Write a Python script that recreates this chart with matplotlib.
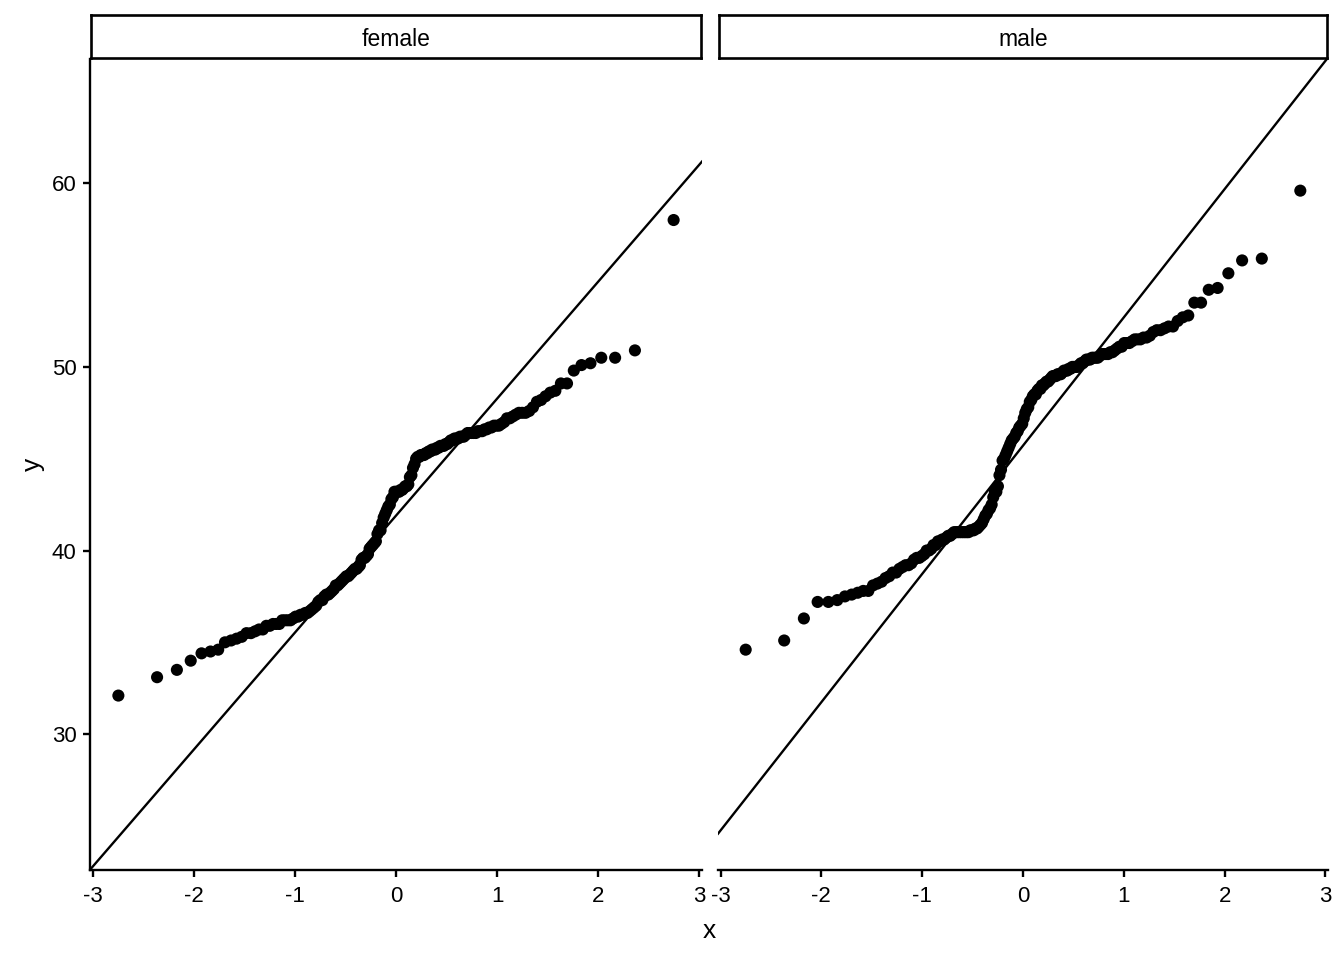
import numpy as np
import matplotlib
matplotlib.use('Agg')
import matplotlib.pyplot as plt
from statistics import NormalDist

plt.rcParams['font.family'] = ['Liberation Sans', 'DejaVu Sans']
plt.rcParams['axes.unicode_minus'] = False

# Data: sorted sample values, one list per facet
panels = ['female', 'male']

female = [
    32.1, 33.1, 33.5, 34.0, 34.4, 34.5, 34.6, 35.0, 35.1,
    35.2, 35.3, 35.5, 35.5, 35.6, 35.7, 35.7, 35.9, 35.9, 36.0,
    36.0, 36.0, 36.2, 36.2, 36.2, 36.2, 36.3, 36.4, 36.4, 36.5,
    36.5, 36.6, 36.6, 36.7, 36.8, 36.9, 37.0, 37.2, 37.3, 37.3,
    37.5, 37.6, 37.6, 37.7, 37.8, 37.9, 38.1, 38.1, 38.2, 38.3,
    38.4, 38.5, 38.6, 38.6, 38.7, 38.8, 38.9, 39.0, 39.0, 39.1,
    39.2, 39.5, 39.6, 39.6, 39.7, 39.8, 40.1, 40.2, 40.3, 40.4,
    40.5, 40.9, 41.1, 41.1, 41.5, 41.8, 42.0, 42.2, 42.4, 42.5,
    42.8, 42.9, 43.2, 43.2, 43.2, 43.2, 43.3, 43.3, 43.4, 43.5,
    43.5, 43.6, 44.0, 44.1, 44.5, 44.7, 45.0, 45.1, 45.1, 45.2,
    45.2, 45.2, 45.3, 45.3, 45.4, 45.4, 45.5, 45.5, 45.5, 45.6,
    45.6, 45.7, 45.7, 45.7, 45.8, 45.8, 45.9, 46.0, 46.0, 46.1,
    46.1, 46.1, 46.2, 46.2, 46.2, 46.3, 46.4, 46.4, 46.4, 46.4,
    46.4, 46.5, 46.5, 46.5, 46.6, 46.6, 46.7, 46.7, 46.8, 46.8,
    46.8, 46.9, 47.0, 47.2, 47.2, 47.3, 47.4, 47.5, 47.5, 47.5,
    47.6, 47.8, 48.1, 48.2, 48.4, 48.6, 48.7, 49.1, 49.1, 49.8,
    50.1, 50.2, 50.5, 50.5, 50.9, 58.0,
]

male = [
    34.6, 35.1, 36.3, 37.2, 37.2, 37.3, 37.5, 37.6, 37.7, 37.8,
    37.8, 38.1, 38.2, 38.3, 38.5, 38.6, 38.8, 38.8, 39.0, 39.1,
    39.2, 39.2, 39.3, 39.5, 39.6, 39.6, 39.7, 39.8, 40.0, 40.0,
    40.1, 40.3, 40.3, 40.5, 40.5, 40.6, 40.6, 40.7, 40.8, 40.8,
    40.9, 41.0, 41.0, 41.0, 41.0, 41.0, 41.0, 41.0, 41.0, 41.0,
    41.1, 41.1, 41.1, 41.2, 41.2, 41.3, 41.4, 41.5, 41.7, 41.9,
    42.0, 42.2, 42.3, 42.5, 42.9, 43.2, 43.2, 43.5, 44.1, 44.4,
    44.9, 45.0, 45.2, 45.4, 45.6, 45.8, 46.0, 46.1, 46.2, 46.4,
    46.5, 46.7, 46.8, 46.9, 47.2, 47.5, 47.7, 47.8, 48.1, 48.2,
    48.4, 48.5, 48.5, 48.7, 48.8, 48.8, 49.0, 49.0, 49.1, 49.2,
    49.2, 49.3, 49.4, 49.5, 49.5, 49.5, 49.6, 49.6, 49.6, 49.7,
    49.8, 49.8, 49.8, 49.9, 49.9, 50.0, 50.0, 50.0, 50.0, 50.1,
    50.2, 50.2, 50.3, 50.4, 50.4, 50.4, 50.5, 50.5, 50.5, 50.5,
    50.6, 50.7, 50.7, 50.7, 50.7, 50.8, 50.8, 50.9, 51.0, 51.1,
    51.1, 51.3, 51.3, 51.3, 51.4, 51.5, 51.5, 51.5, 51.6, 51.6,
    51.7, 51.9, 52.0, 52.0, 52.1, 52.2, 52.2, 52.5, 52.7, 52.8,
    53.5, 53.5, 54.2, 54.3, 55.1, 55.8, 55.9, 59.6,
]

x_ticks = [-3, -2, -1, 0, 1, 2, 3]
y_ticks = [30, 40, 50, 60]


def qq(values):
    # theoretical normal quantiles, ppoints style (n > 10 -> a = 0.5)
    y = np.sort(np.asarray(values, dtype=float))
    n = len(y)
    nd = NormalDist()
    x = np.array([nd.inv_cdf((i - 0.5) / n) for i in range(1, n + 1)])
    return x, y


def qq_line(values):
    # line through the 1st and 3rd quartiles
    y = np.asarray(values, dtype=float)
    q1, q3 = np.percentile(y, [25, 75])
    nd = NormalDist()
    z1, z3 = nd.inv_cdf(0.25), nd.inv_cdf(0.75)
    slope = (q3 - q1) / (z3 - z1)
    return q1 - slope * z1, slope


fig = plt.figure(figsize=(13.44, 9.6), dpi=100)
fig.patch.set_facecolor('white')

W, H = 1344, 960
panel_px = [(90, 702), (718, 1328)]
top_px, bottom_px = 59, 870
strip_top, strip_bottom = 15, 58

for k, (name, vals) in enumerate(zip(panels, [female, male])):
    x0, x1 = panel_px[k]
    ax = fig.add_axes([x0 / W, 1 - bottom_px / H, (x1 - x0) / W, (bottom_px - top_px) / H])
    x, y = qq(vals)
    ax.scatter(x, y, s=76, color='black', edgecolors='none', zorder=3)
    b0, b1 = qq_line(vals)
    ax.axline((0, b0), slope=b1, color='black', linewidth=1.7, zorder=2)

    ax.set_xlim(-3.025, 3.025)
    ax.set_ylim(22.6, 66.77)
    ax.set_xticks(x_ticks)
    ax.set_xticklabels([str(t) for t in x_ticks])
    ax.set_yticks(y_ticks)
    for s in ['top', 'right']:
        ax.spines[s].set_visible(False)
    ax.spines['bottom'].set_linewidth(1.7)
    ax.spines['left'].set_linewidth(1.7)
    ax.tick_params(axis='x', length=4.7, width=1.7, pad=6.5, labelsize=16, colors='black')
    ax.tick_params(axis='y', length=4.7, width=1.7, pad=5, labelsize=16, colors='black')
    if k > 0:
        ax.spines['left'].set_visible(False)
        ax.tick_params(axis='y', left=False, labelleft=False)

    # facet strip
    sx0 = x0 + 1
    sx1 = x1 - 1
    sax = fig.add_axes([sx0 / W, 1 - strip_bottom / H, (sx1 - sx0) / W, (strip_bottom - strip_top) / H])
    sax.set_xticks([])
    sax.set_yticks([])
    for s in sax.spines.values():
        s.set_linewidth(1.9)
        s.set_color('black')
    sax.text(0.5, 0.42, name, ha='center', va='center', fontsize=16.5, transform=sax.transAxes)

fig.text(709 / W, 1 - 931 / H, 'x', ha='center', va='center', fontsize=19)
fig.text(33 / W, 1 - 464 / H, 'y', ha='center', va='center', fontsize=19, rotation=90)

plt.savefig('out.png', dpi=100)
